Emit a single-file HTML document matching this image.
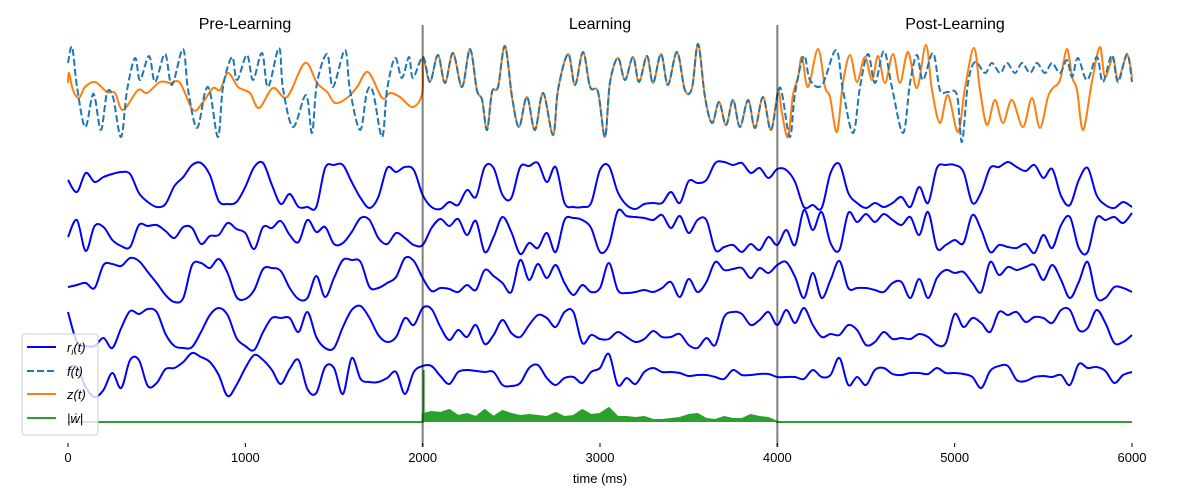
<!DOCTYPE html>
<html><head><meta charset="utf-8"><style>
html,body{margin:0;padding:0;background:#fff}
svg{display:block;font-family:"Liberation Sans","DejaVu Sans",sans-serif}
</style></head><body>
<svg id="chart" width="1200" height="500" viewBox="0 0 1200 500" xmlns="http://www.w3.org/2000/svg">
<g id="plot"></g>
<text x="245" y="29" font-size="16" text-anchor="middle">Pre-Learning</text>
<text x="600" y="29" font-size="16" text-anchor="middle">Learning</text>
<text x="955" y="29" font-size="16" text-anchor="middle">Post-Learning</text>
<g id="xaxis"></g>
<text x="600" y="483" font-size="13" text-anchor="middle">time (ms)</text>
<g>
<rect x="22" y="334" width="76" height="101" rx="3" fill="#fff" fill-opacity="0.8" stroke="#ccc" stroke-width="1"/>
<g><line x1="27" y1="347" x2="56" y2="347" stroke="#0000ff" stroke-width="2"/><text x="67" y="352" font-size="13" font-style="italic">r<tspan font-size="9" dy="3">i</tspan><tspan dy="-3">(t)</tspan></text></g>
<g><line x1="27" y1="371" x2="56" y2="371" stroke="#1f77b4" stroke-width="2" stroke-dasharray="7,3"/><text x="67" y="376" font-size="13" font-style="italic">f(t)</text></g>
<g><line x1="27" y1="394" x2="56" y2="394" stroke="#ff7f0e" stroke-width="2"/><text x="67" y="399" font-size="13" font-style="italic">z(t)</text></g>
<g><line x1="27" y1="418" x2="56" y2="418" stroke="#2ca02c" stroke-width="2"/><text x="67" y="423" font-size="13" font-style="italic">|ẇ|</text></g>
</g>
</svg>
<script>
// ---- data ----
const xTicks = [0,1000,2000,3000,4000,5000,6000];
const phaseBounds = [2000,4000];
const fPreT = [0,23,51,96,135,152,186,220,254,299,333,378,406,457,491,547,586,648,677,727,773,801,846,874,925,953,1009,1043,1094,1128,1190,1212,1269,1342,1376,1404,1461,1494,1562,1590,1647,1686,1720,1771,1799,1844,1883,1923,1945];
const fPreV = [25,41,1,-39,-9,-10,-42,-5,-9,-49,-2,30,8,32,6,34,3,39,-2,-40,-4,-4,-49,1,31,8,33,8,35,1,40,0,-39,-7,-45,5,34,1,38,-2,-42,-4,-4,-49,-2,30,10,31,10];
const learnT = [2002,2041,2086,2126,2171,2222,2267,2306,2335,2363,2391,2425,2464,2504,2543,2588,2633,2679,2735,2763,2820,2859,2904,2944,2989,3028,3056,3101,3141,3186,3220,3265,3299,3344,3383,3434,3479,3519,3553,3592,3632,3671,3711,3750,3789,3835,3874,3919,3964,4004];
const learnV = [31,6,33,5,35,1,39,-2,-12,-42,-4,1,42,-9,-39,-9,-42,-5,-47,-2,34,3,36,1,-4,-49,5,30,8,31,6,32,5,34,3,36,-2,0,44,-9,-35,-14,-37,-12,-39,-12,-40,-9,-42,-4];
const fPostT = [4026,4071,4100,4150,4184,4252,4331,4370,4427,4466,4511,4551,4601,4647,4709,4748,4787,4821,4878,4917,4962,5013,5041,5075,5115,5171,5210,5256,5295,5340,5380,5425,5464,5509,5549,5594,5633,5662,5695,5746,5802,5836,5887,5921,5972,6000];
const fPostV = [-5,-49,-5,32,8,3,38,-2,-45,1,34,5,37,0,-45,5,33,8,35,-2,-4,-7,-54,5,26,15,25,15,25,15,25,15,25,15,25,15,28,11,30,8,31,6,33,6,34,6];
const zPreT = [0,6,28,62,96,152,220,265,310,395,445,519,575,632,705,761,818,857,902,959,1026,1077,1156,1235,1336,1404,1461,1506,1573,1630,1692,1771,1816,1872,1945,1998];
const zPreV = [5,15,-2,-10,1,6,-4,-5,-22,-2,-5,6,5,5,-22,-14,0,-2,15,1,-5,-20,0,-9,25,5,-4,-15,-10,1,16,-10,-5,-9,-19,-5];
const zPostT = [4026,4060,4088,4117,4139,4173,4229,4269,4297,4336,4370,4410,4449,4494,4534,4568,4607,4652,4692,4737,4787,4838,4872,4917,4962,5019,5058,5109,5143,5182,5227,5272,5323,5385,5436,5481,5526,5554,5594,5633,5662,5690,5724,5774,5819,5847,5893,5921,5972,6000];
const zPostV = [-25,-49,-7,11,31,1,39,1,-9,-44,5,33,6,31,8,32,5,34,5,36,0,43,-2,-35,-7,-44,0,40,-2,-37,-12,-35,-12,-39,-10,-40,-9,0,8,39,11,-2,-42,6,41,11,30,8,33,11];
const rStep = 50;
const r1 = [30,18,37,28,33,36,38,36,17,8,3,6,24,33,45,47,35,9,6,8,23,43,47,25,6,16,3,3,3,42,45,45,28,12,2,13,42,38,43,40,15, 3,1,8,5,20,13,43,42,15,12,43,44,47,28,43,7,3,3,7,40,44,18,5,1,6,7,7,18,7,29,27,30,47,48,45,47,37,42,32,41, 40,28,3,5,2,37,46,17,7,2,7,3,7,13,3,23,7,42,45,45,38,7,18,42,43,48,43,39,45,32,41,14,5,30,42,15,5,2,8,3];
const r2 = [18,35,4,29,28,15,9,8,30,29,30,24,17,28,27,11,19,20,32,26,22,6,28,27,34,20,13,35,23,28,11,12,23,37,35,17,11,22,17,10,10, 27,36,29,36,20,34,3,18,38,23,1,12,7,22,3,35,37,35,27,3,10,44,39,38,37,35,40,27,39,22,35,35,5,8,10,3,11,5,18,10, 25,10,45,25,43,12,5,42,33,41,33,41,35,30,38,20,43,7,10,15,12,40,25,3,10,8,7,11,2,20,7,30,38,7,3,37,35,38,32,42];
const r3 = [13,15,17,12,35,36,34,42,39,28,17,5,-2,2,35,37,32,41,27,3,1,10,31,32,29,12,1,2,24,3,22,40,40,38,13,12,17,23,42,39,22, 9,12,11,8,15,10,30,24,17,8,40,20,36,22,35,17,5,15,8,12,37,10,7,8,10,8,12,18,3,21,8,18,38,30,31,32,22,32,27,35, 38,23,2,27,2,20,39,12,12,12,10,8,17,18,2,21,2,22,30,27,28,17,8,38,25,33,30,33,35,20,35,20,2,18,38,3,2,13,12,8];
const r4 = [38,8,4,4,12,2,22,39,36,41,38,16,4,2,3,18,35,42,35,12,4,0,18,32,32,32,18,38,13,2,2,23,40,44,32,15,8,13,32,25,42, 41,23,10,20,13,25,6,15,30,17,13,25,35,32,23,38,38,7,15,11,11,18,13,8,11,19,13,13,16,5,2,12,5,33,38,36,25,30,38,25, 40,27,42,25,13,16,15,25,20,5,8,18,11,12,11,16,13,5,7,36,23,32,27,18,38,35,38,28,33,32,27,40,40,20,22,40,27,7,8,15];
const r5 = [32,33,13,3,10,27,12,40,40,14,17,31,32,38,47,43,38,25,4,15,32,45,40,30,16,31,40,11,7,33,32,6,42,21,18,18,22,28,6,28,34, 34,24,16,28,30,29,28,28,15,14,17,32,35,22,15,22,23,17,28,32,46,15,22,16,28,32,28,28,27,24,25,25,23,21,30,25,25,26,26,23, 23,23,21,30,23,25,42,15,23,15,30,32,26,25,27,27,26,32,27,27,26,23,12,29,34,34,20,19,23,24,23,25,15,36,32,33,29,17,25,28];
const wStart = 2000;
const wSpike = 52;
const wVals = [8,10,9,12,6,8,5,12,5,11,8,6,7,6,5,9,5,6,12,7,8,14,5,5,4,5,2,2,3,4,7,8,3,2,5,3,3,7,5,4,0];

// ---- scales ----
const X0 = 68, X1 = 1132;
const xs = t => X0 + (t / 6000) * (X1 - X0);
const topY = v => 88 - v;
const traceBase = [210,255,300,350,400];
const wBase = 422;

const NS = "http://www.w3.org/2000/svg";
const plot = document.getElementById('plot');
function mk(tag, attrs, parent) {
  const e = document.createElementNS(NS, tag);
  for (const k in attrs) e.setAttribute(k, attrs[k]);
  (parent || plot).appendChild(e);
  return e;
}
function smoothPath(pts) {
  let d = `M${pts[0][0].toFixed(1)},${pts[0][1].toFixed(1)}`;
  for (let i = 0; i < pts.length - 1; i++) {
    const p0 = pts[i-1] || pts[i], p1 = pts[i], p2 = pts[i+1], p3 = pts[i+2] || p2;
    const c1x = p1[0] + (p2[0]-p0[0])/6, c1y = p1[1] + (p2[1]-p0[1])/6;
    const c2x = p2[0] - (p3[0]-p1[0])/6, c2y = p2[1] - (p3[1]-p1[1])/6;
    d += `C${c1x.toFixed(1)},${c1y.toFixed(1)} ${c2x.toFixed(1)},${c2y.toFixed(1)} ${p2[0].toFixed(1)},${p2[1].toFixed(1)}`;
  }
  return d;
}

// neuron traces
[r1,r2,r3,r4,r5].forEach((arr, i) => {
  const pts = arr.map((v, k) => [xs(k * rStep), traceBase[i] - v]);
  const p = mk('path', {d: smoothPath(pts), fill: 'none', stroke: '#0000ff', 'stroke-width': 2, 'stroke-linejoin': 'round'});
  
  
});

// z(t)
const zT = zPreT.concat(learnT, zPostT), zV = zPreV.concat(learnV, zPostV);
const zp = mk('path', {d: smoothPath(zT.map((t,k)=>[xs(t), topY(zV[k])])), fill: 'none', stroke: '#ff7f0e', 'stroke-width': 2, 'stroke-linejoin': 'round'});



// f(t)
const fT = fPreT.concat(learnT, fPostT), fV = fPreV.concat(learnV, fPostV);
const fp = mk('path', {d: smoothPath(fT.map((t,k)=>[xs(t), topY(fV[k])])), fill: 'none', stroke: '#1f77b4', 'stroke-width': 2, 'stroke-dasharray': '7,3', 'stroke-linejoin': 'round'});



// |w dot|
let wd = `M${xs(0)},${wBase} L${xs(wStart)},${wBase}`;
wVals.forEach((v, k) => { wd += ` L${xs(wStart + k * rStep).toFixed(1)},${wBase - v}`; });
wd += ` L${xs(6000)},${wBase}`;
const wl = mk('path', {d: wd, fill: 'none', stroke: '#2ca02c', 'stroke-width': 2});


let wa = `M${xs(wStart)},${wBase}`;
wVals.forEach((v, k) => { wa += ` L${xs(wStart + k * rStep).toFixed(1)},${wBase - v}`; });
wa += ` L${xs(wStart + (wVals.length - 1) * rStep)},${wBase} Z`;
const wf = mk('path', {d: wa, fill: '#2ca02c', stroke: 'none'});


const ws = mk('line', {x1: xs(wStart) + 1, x2: xs(wStart) + 1, y1: wBase, y2: wBase - wSpike, stroke: '#2ca02c', 'stroke-width': 2});



// phase boundaries
phaseBounds.forEach(t => {
  const l = mk('line', {x1: xs(t), x2: xs(t), y1: 25, y2: 447, stroke: '#000', 'stroke-opacity': 0.5, 'stroke-width': 2});
  
  
});

// x axis
const xa = document.getElementById('xaxis');
xTicks.forEach(t => {
  const tk = mk('line', {x1: xs(t), x2: xs(t), y1: 443, y2: 447, stroke: '#000', 'stroke-width': 1}, xa);
  
  
  const lb = mk('text', {x: xs(t), y: 462, 'font-size': 13, 'text-anchor': 'middle'}, xa);
  lb.textContent = t;
  
  
});
</script>
</body></html>
